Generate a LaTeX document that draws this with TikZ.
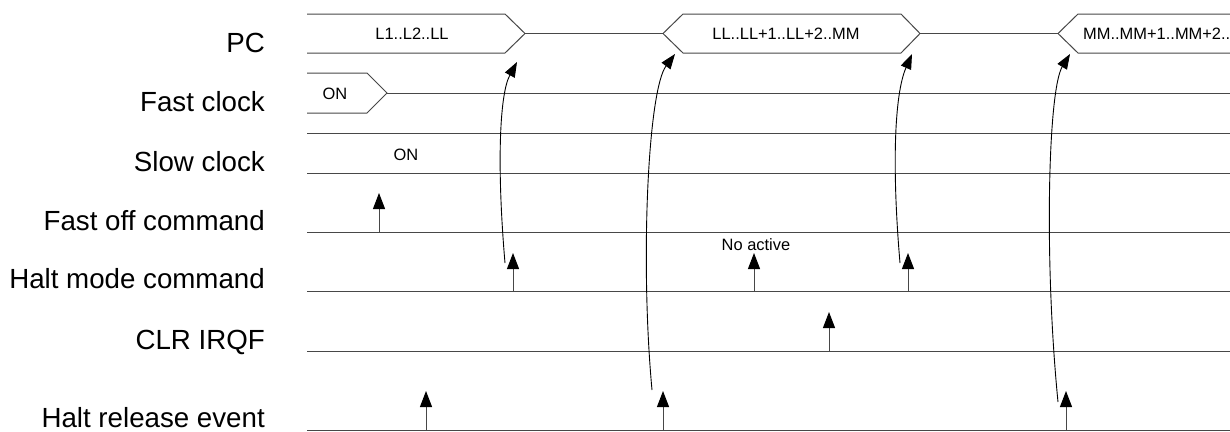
\documentclass[tikz,border=0pt]{standalone}
\usepackage{fontspec}
\setmainfont{Liberation Sans}
\usetikzlibrary{arrows.meta}
\tikzset{
  sig/.style={draw=black!72, line width=1bp},
  lbl/.style={anchor=base east, inner sep=0pt, font=\fontsize{27.8}{30}\selectfont},
  small/.style={inner sep=0pt, font=\fontsize{16.5}{18}\selectfont},
  evt/.style={draw=black!72, line width=1bp, arrows={-{Triangle[length=16bp,width=12bp,color=black]}}},
  link/.style={draw=black, line width=0.9bp, -{Triangle[length=15bp,width=11bp]}}
}
\begin{document}
\begin{tikzpicture}[x=1bp,y=-1bp]
\useasboundingbox (0,0) rectangle (1230,431);
\fill[white] (0,0) rectangle (1230,431);

% labels
\node[lbl] (lPC) at (265,52) {PC};
\node[lbl] (lFC) at (265,111.5) {Fast clock};
\node[lbl] (lSC) at (265,171.5) {Slow clock};
\node[lbl] (lFO) at (265,230) {Fast off command};
\node[lbl] (lHM) at (265,288.5) {Halt mode command};
\node[lbl] (lCL) at (265,349) {CLR IRQF};
\node[lbl] (lHR) at (265,427) {Halt release event};

% PC bus
\draw[sig] (307,14) -- (505,14) -- (525,33.5) -- (505,53) -- (307,53);
\draw[sig] (525,33.5) -- (663,33.5);
\draw[sig] (1230,14) -- (1078,14) -- (1058,33.5) -- (1078,53) -- (1230,53);
\draw[sig] (920,33.5) -- (1058,33.5);
\draw[sig] (663,33.5) -- (683,14) -- (901,14) -- (920,33.5) -- (901,53) -- (683,53) -- cycle;
\node[small, anchor=base] (pc1) at (412,39.3) {L1..L2..LL};
\node[small, anchor=base] (pc2) at (786,39.3) {LL..LL+1..LL+2..MM};
\node[small, anchor=base west] (pc3) at (1083,39.3) {MM..MM+1..MM+2..};

% Fast clock
\draw[sig] (307,73) -- (367,73) -- (387,93) -- (367,113) -- (307,113);
\draw[sig] (387,93) -- (1230,93);
\node[small, anchor=base] (fcon) at (335,99.3) {ON};

% Slow clock
\draw[sig] (307,133) -- (1230,133);
\draw[sig] (307,173) -- (1230,173);
\node[small, anchor=base] (scon) at (406,160) {ON};

% baselines
\draw[sig] (307,232) -- (1230,232);
\draw[sig] (307,291) -- (1230,291);
\draw[sig] (307,351) -- (1230,351);
\draw[sig] (307,430) -- (1230,430);

% event arrows
\coordinate (fo0) at (379,232); \coordinate (fo1) at (379,193);
\draw[evt] (fo0) -- (fo1);
\coordinate (hm0) at (513,291); \coordinate (hm1) at (513,253);
\draw[evt] (hm0) -- (hm1);
\coordinate (hm2) at (754,291); \coordinate (hm3) at (754,253);
\draw[evt] (hm2) -- (hm3);
\coordinate (hm4) at (908,291); \coordinate (hm5) at (908,253);
\draw[evt] (hm4) -- (hm5);
\node[small, anchor=base] (noact) at (756,250) {No active};
\coordinate (cl0) at (829,351); \coordinate (cl1) at (829,312);
\draw[evt] (cl0) -- (cl1);
\coordinate (hr0) at (426,430); \coordinate (hr1) at (426,391);
\draw[evt] (hr0) -- (hr1);
\coordinate (hr2) at (663,430); \coordinate (hr3) at (663,391);
\draw[evt] (hr2) -- (hr3);
\coordinate (hr4) at (1066,430); \coordinate (hr5) at (1066,391);
\draw[evt] (hr4) -- (hr5);

% curved links
\coordinate (a1s) at (505,263); \coordinate (a1e) at (517,62);
\draw[link] (a1s) .. controls (497,170) and (499,95) .. (a1e);
\coordinate (a2s) at (652,390); \coordinate (a2e) at (675,54);
\draw[link] (a2s) .. controls (640,260) and (648,90) .. (a2e);
\coordinate (a3s) at (900,263); \coordinate (a3e) at (912,54);
\draw[link] (a3s) .. controls (892,170) and (894,95) .. (a3e);
\coordinate (a4s) at (1058,402); \coordinate (a4e) at (1070,54);
\draw[link] (a4s) .. controls (1044,260) and (1048,90) .. (a4e);
\end{tikzpicture}
\end{document}
